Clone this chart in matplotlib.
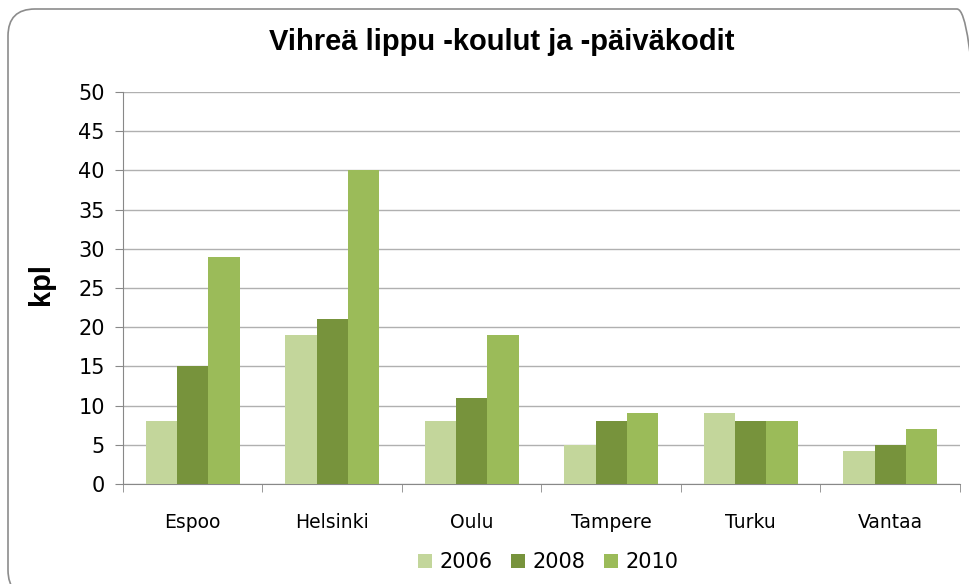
import numpy as np
import matplotlib
matplotlib.use("Agg")
import matplotlib.pyplot as plt
from matplotlib.patches import FancyBboxPatch

# kaupungit ja vuodet
cities = ["Espoo", "Helsinki", "Oulu", "Tampere", "Turku", "Vantaa"]
years = ["2006", "2008", "2010"]
v2006 = [8, 19, 8, 5, 9, 4.2]
v2008 = [15, 21, 11, 8, 8, 5]
v2010 = [29, 40, 19, 9, 8, 7]
colors = ["#C3D69B", "#77933C", "#9BBB59"]

fig = plt.figure(figsize=(9.7, 5.84), dpi=100)
ax = fig.add_axes([123 / 970, 100 / 584, 837 / 970, 392 / 584])

# rounded chart border (runs off the right and bottom edge like the original)
border = FancyBboxPatch((0.08, -0.13), 9.76, 5.88, boxstyle="round,pad=0,rounding_size=0.27",
                        transform=fig.dpi_scale_trans, fill=False, edgecolor="#8C8C8C",
                        linewidth=1.2)
fig.patches.append(border)

x = np.arange(len(cities))
w = 0.225
for i, (vals, lab) in enumerate(zip([v2006, v2008, v2010], years)):
    ax.bar(x + (i - 1) * w, vals, w, color=colors[i], label=lab, zorder=3)

ax.set_xlim(-0.5, len(cities) - 0.5)
ax.set_ylim(0, 50)
ax.set_yticks(range(0, 51, 5))
ax.set_xticks(x)
ax.set_xticklabels(cities)
ax.set_xticks(np.arange(-0.5, len(cities), 1), minor=True)
ax.tick_params(axis="x", which="major", length=0, pad=21, labelsize=13.5)
ax.tick_params(axis="x", which="minor", length=6, color="#888888", direction="out")
ax.tick_params(axis="y", length=6, color="#888888", labelsize=15, pad=7)
ax.grid(axis="y", color="#B0B0B0", linewidth=1, zorder=0)

for s in ["top", "right"]:
    ax.spines[s].set_visible(False)
ax.spines["left"].set_color("#888888")
ax.spines["bottom"].set_color("#888888")

ax.set_ylabel("kpl", fontsize=21, fontweight="bold", family="Liberation Sans")
ax.yaxis.set_label_coords(-0.081, 0.51)
fig.text(502 / 970, 1 - 42 / 584, "Vihreä lippu -koulut ja -päiväkodit", ha="center", va="center",
         fontsize=21, fontweight="bold", family="Liberation Sans")

ax.legend(loc="center", bbox_to_anchor=(0.508, -0.2), ncol=3, frameon=False,
          fontsize=15, handlelength=0.67, handleheight=0.67, handletextpad=0.34, columnspacing=0.91)

fig.savefig("out.png", dpi=100)
